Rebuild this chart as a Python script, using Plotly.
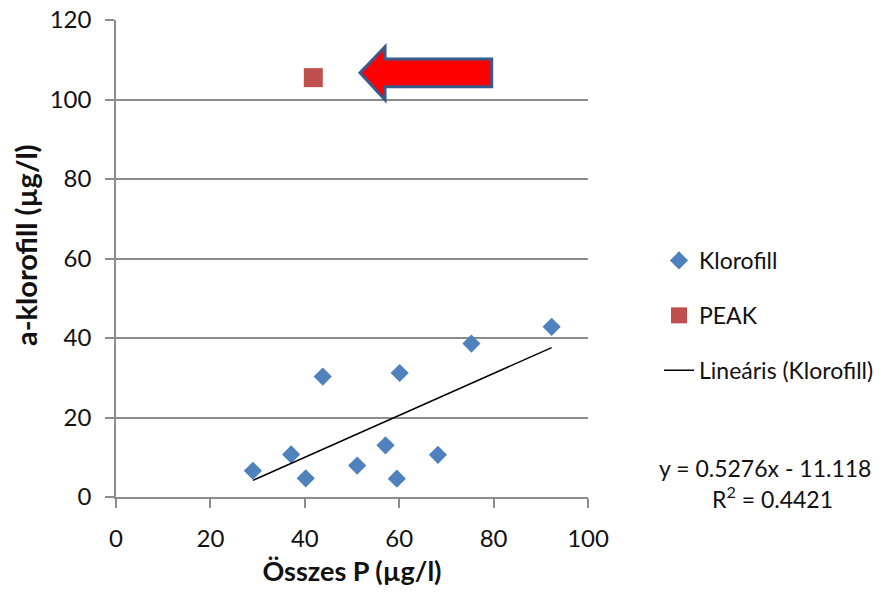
import plotly.graph_objects as go
import numpy as np

# Data
klorofill_x = [29.0, 37.1, 40.2, 43.8, 51.1, 57.1, 59.5, 60.1, 68.2, 75.3, 92.3]
klorofill_y = [6.6, 10.7, 4.7, 30.3, 7.9, 13.0, 4.6, 31.2, 10.6, 38.6, 42.8]
peak_x = [41.8]
peak_y = [105.5]
slope = 0.5276
intercept = -11.118
r2 = 0.4421
x_ticks = [0, 20, 40, 60, 80, 100]
y_ticks = [0, 20, 40, 60, 80, 100, 120]

FONT = "Lato"
GRID = "#8c8c8c"
TXT = "#111"
L, R, T, B = 116, 588, 20, 497
PW, PH = R - L, B - T

trend_x = np.array([min(klorofill_x), max(klorofill_x)])
trend_y = slope * trend_x + intercept

fig = go.Figure()
fig.add_trace(go.Scatter(
    x=klorofill_x, y=klorofill_y, mode="markers", name="Klorofill",
    marker=dict(symbol="diamond", size=14, color="#4f81bd"),
    legendgroup="a"))
fig.add_trace(go.Scatter(
    x=peak_x, y=peak_y, mode="markers", name="PEAK",
    marker=dict(symbol="square", size=19, color="#c0504d"),
    legendgroup="b"))
fig.add_trace(go.Scatter(
    x=trend_x, y=trend_y, mode="lines", name="Lineáris (Klorofill)",
    line=dict(color="black", width=1.5),
    legendgroup="c"))

# Callout arrow pointing at the PEAK point (data coordinates)
arrow = ("M 51.7,106.7 L 57.0,113.3 L 57.0,110.2 L 79.6,110.2 "
         "L 79.6,103.2 L 57.0,103.2 L 57.0,99.9 Z")
fig.add_shape(type="path", path=arrow, xref="x", yref="y",
              fillcolor="#ff0000", line=dict(color="#3b5a8c", width=3))

fig.add_annotation(text=f"y = {slope}x - {abs(intercept)}", xref="paper", yref="paper",
                   x=(765 - L) / PW, y=(B - 468) / PH, showarrow=False,
                   font=dict(family=FONT, size=23, color=TXT), xanchor="center", yanchor="middle")
fig.add_annotation(text=f"R<sup>2</sup> = {r2}", xref="paper", yref="paper",
                   x=(772 - L) / PW, y=(B - 497) / PH, showarrow=False,
                   font=dict(family=FONT, size=23, color=TXT), xanchor="center", yanchor="middle")

# y-axis title as rotated annotation
fig.add_annotation(text="<b>a-klorofill (µg/l)</b>", xref="paper", yref="paper",
                   x=(25 - L) / PW, y=(B - 245) / PH, showarrow=False, textangle=-90,
                   font=dict(family=FONT, size=29, color=TXT), xanchor="center", yanchor="middle")

fig.update_layout(
    width=896, height=606,
    margin=dict(l=L, r=896 - R, t=T, b=606 - B, autoexpand=False),
    paper_bgcolor="white", plot_bgcolor="white",
    font=dict(family=FONT, color=TXT),
    legend=dict(x=(659 - L) / PW, y=(B - 239) / PH, xanchor="left", yanchor="top",
                traceorder="grouped", tracegroupgap=22,
                font=dict(family=FONT, size=23, color=TXT), bgcolor="rgba(0,0,0,0)"),
    showlegend=True,
)
fig.update_xaxes(
    range=[0, 100], tickvals=x_ticks, showgrid=False, zeroline=False, automargin=False,
    showline=True, linecolor=GRID, linewidth=1.5,
    ticks="outside", ticklen=9, tickcolor=GRID, tickwidth=1.5,
    tickfont=dict(family=FONT, size=24, color=TXT), ticklabelstandoff=10,
    title=dict(text="<b>Összes P (µg/l)</b>", font=dict(family=FONT, size=27, color=TXT), standoff=12),
)
fig.update_yaxes(
    range=[0, 120], tickvals=y_ticks, showgrid=True, gridcolor=GRID, gridwidth=1.5,
    zeroline=False, showline=True, linecolor=GRID, linewidth=1.5, automargin=False,
    ticks="outside", ticklen=9, tickcolor=GRID, tickwidth=1.5,
    tickfont=dict(family=FONT, size=24, color=TXT), ticklabelstandoff=9,
)

fig.write_html("out.html")
